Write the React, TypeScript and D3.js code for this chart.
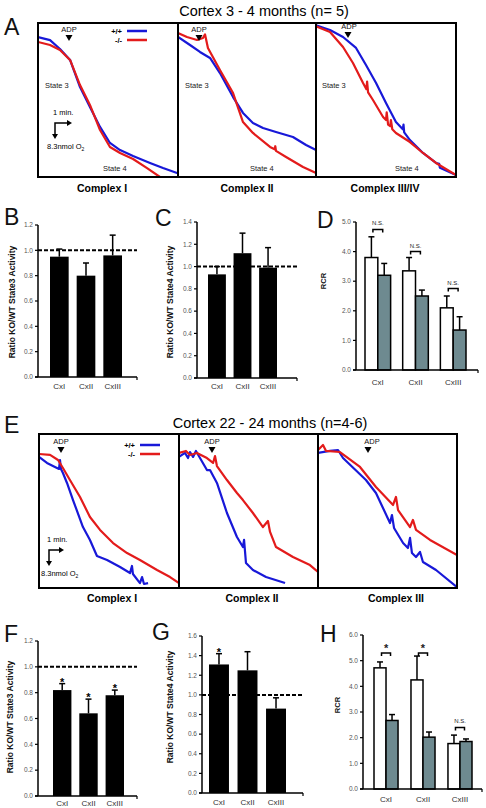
import React from 'react';
import * as d3 from 'd3';

const FONT = "'Liberation Sans', Arial, Helvetica, sans-serif";
const BLUE = '#1818d8';
const RED = '#e31b1b';
const GRAY = '#6e8a90';

type Pt = [number, number];

// ---------- Panel A traces (time %, O2 % of box) ----------
const aC1Blue: Pt[] = [[0, 90.9], [8.6, 88.9], [15.7, 83.1], [22.9, 76.0], [30, 58.4], [37.1, 45.5], [44.3, 32.5], [51.4, 22.1], [58.6, 17.5], [67.9, 13.6], [80, 9.1], [89.3, 5.8], [99.3, 2.6], [100, 2.6]];
const aC1Red: Pt[] = [[0, 87.7], [8.6, 85.7], [15.7, 82.5], [22.9, 76], [30, 59.7], [37.1, 46.8], [44.3, 30.5], [51.4, 19.5], [58.6, 15.6], [67.9, 11.7], [77.9, 5.8], [87.1, 0], [90, -2]];
const aC2Blue: Pt[] = [[0, 90.9], [8.7, 85.7], [15.9, 81.2], [23.2, 77.3], [30.4, 67.5], [39.9, 51.9], [47.1, 41.6], [54.3, 35.1], [61.6, 31.8], [71, 29.2], [83.3, 26], [92.8, 20.8], [100, 17.5]];
const aC2Red: Pt[] = [[0, 93.5], [6.5, 90.9], [13.8, 89], [18.1, 90.3], [19.6, 92.6], [21.7, 83.8], [30.4, 69.5], [39.9, 54.5], [47.1, 35.7], [54.3, 28.6], [66.7, 19.5], [70, 18], [70.5, 20], [71, 17], [78.3, 13], [90.6, 6.5], [100, 2.6]];
const aC3Blue: Pt[] = [[0, 98.5], [10, 95.5], [19.3, 90.9], [28.6, 83.8], [35.7, 72.7], [42.9, 61], [50, 48.1], [57.1, 35.7], [62, 31], [62.5, 34], [63, 29], [67.1, 24], [76.4, 15.6], [85.7, 9.1], [88, 8.5], [88.5, 6], [100, 1.3]];
const aC3Red: Pt[] = [[0, 97.8], [10, 94.2], [19.3, 84.4], [26.4, 74], [33.6, 61], [36, 57], [36.5, 62], [37.2, 55], [40.7, 50], [47.9, 39], [50, 37], [50.5, 42], [51.5, 34], [53, 33], [53.5, 37], [54.5, 31], [57.1, 28.6], [67.1, 22.7], [76.4, 15.6], [85.7, 9.1], [100, 1.3]];

// ---------- Panel E traces ----------
const eC1Blue: Pt[] = [[0, 85.1], [5.7, 81.2], [11.4, 78.6], [14.3, 77.3], [15, 83.1], [15.7, 77.3], [17.1, 74.7], [20, 68.2], [24.3, 57.1], [31.4, 39.6], [36.4, 31.2], [41.4, 20.8], [48.6, 18.2], [57.9, 13.6], [65, 9.7], [66.4, 14.3], [67.1, 9.1], [72.1, 3.2], [73.6, 7.1], [75, 2.6], [77.9, 3.2]];
const eC1Red: Pt[] = [[0, 87], [7.9, 86.4], [13.6, 83.1], [17.1, 77.9], [22.1, 70.1], [29.3, 59.1], [36.4, 46.1], [43.6, 37.7], [52.9, 29.2], [62.9, 22.7], [72.1, 18.2], [84.3, 11.7], [93.6, 7.1], [100, 3.2]];
const eC2Blue: Pt[] = [[0, 85.1], [4.3, 87.7], [6.5, 84.4], [7.9, 88.3], [10.1, 85.1], [12.2, 89], [15.1, 84.4], [20.1, 76.6], [22.3, 76.6], [27.3, 68.2], [34.5, 48.7], [41.7, 33.1], [46, 26.6], [46.8, 31.2], [48.2, 16.2], [53.2, 11.7], [62.6, 7.1], [76.3, 3.2]];
const eC2Red: Pt[] = [[0, 87.7], [5, 89], [7.9, 86.4], [12.9, 87.7], [20.1, 84.4], [24.5, 81.2], [25.9, 85.7], [27.3, 79.2], [34.5, 70.1], [41.7, 61.7], [46, 57.1], [53.2, 48.7], [60.4, 39.6], [64, 43.5], [65.5, 36.4], [69.8, 26.6], [82, 20.1], [94.2, 14.9], [100, 10.4]];
const eC3Blue: Pt[] = [[0, 87.7], [8.6, 89], [14.4, 89.6], [18, 84.4], [34.5, 70.1], [41.7, 61.7], [51.8, 42.2], [53.2, 47.4], [54.7, 39], [61.2, 29.2], [64.7, 26], [66.2, 32.5], [67.6, 22.7], [70.5, 20.1], [73.4, 23.4], [75.5, 16.9], [84.9, 11.7], [100, 0.6]];
const eC3Red: Pt[] = [[0, 89.6], [3.6, 92.9], [5.8, 89], [15.8, 88.3], [30.2, 78.6], [41.7, 65.6], [54, 53.9], [56.1, 59.1], [57.6, 50.6], [66.2, 39.6], [68.3, 44.2], [70.5, 37.7], [80.6, 31.2], [100, 21.4]];

// ---------- Bar data ----------
const cats = ['CxI', 'CxII', 'CxIII'];
const bVals = [0.95, 0.80, 0.96];
const bErr = [1.01, 0.90, 1.12];
const cVals = [0.93, 1.12, 0.99];
const cErr = [1.00, 1.30, 1.17];
const dWT = [3.8, 3.35, 2.1];
const dWTErr = [4.5, 3.8, 2.5];
const dKO = [3.2, 2.5, 1.35];
const dKOErr = [3.6, 2.7, 1.8];
const dBracket = [4.75, 4.0, 2.75];
const dSig = ['N.S.', 'N.S.', 'N.S.'];
const fVals = [0.82, 0.64, 0.78];
const fErr = [0.87, 0.75, 0.82];
const fStars = [true, true, true];
const gVals = [1.31, 1.25, 0.86];
const gErr = [1.42, 1.44, 0.97];
const gStars = [true, false, false];
const hWT = [4.72, 4.25, 1.77];
const hWTErr = [4.95, 5.18, 2.1];
const hKO = [2.67, 2.02, 1.85];
const hKOErr = [2.9, 2.22, 1.95];
const hBracket = [5.3, 5.3, 2.4];
const hSig = ['*', '*', 'N.S.'];

function TraceBox(props: { id: string; left: number; top: number; width: number; height: number; blue: Pt[]; red: Pt[] }) {
  const { id, left, top, width, height, blue, red } = props;
  const x = d3.scaleLinear().domain([0, 100]).range([left, left + width]);
  const y = d3.scaleLinear().domain([0, 100]).range([top + height, top]);
  const line = d3.line<Pt>().x(d => x(d[0])).y(d => y(d[1]));
  return (
    <g>
      <clipPath id={id}><rect x={left} y={top} width={width} height={height} /></clipPath>
      <g clipPath={`url(#${id})`}>
        <path d={line(blue) || ''} stroke={BLUE} strokeWidth={2.2} fill="none" strokeLinejoin="round" />
        <path d={line(red) || ''} stroke={RED} strokeWidth={2.2} fill="none" strokeLinejoin="round" />
      </g>
      <rect x={left} y={top} width={width} height={height} fill="none" stroke="#000" strokeWidth={2} />
    </g>
  );
}

function ADP({ x, y, tri }: { x: number; y: number; tri?: number }) {
  const tx = tri ?? x;
  return (
    <g>
      <text x={x} y={y} fontSize={7.5} textAnchor="middle" fill="#111">ADP</text>
      <path d={`M${tx - 3.5},${y + 3} L${tx + 3.5},${y + 3} L${tx},${y + 9} Z`} fill="#000" />
    </g>
  );
}

function Legend({ x, y }: { x: number; y: number }) {
  return (
    <g fontSize={7.5} fontWeight="bold">
      <text x={x} y={y + 2.5} textAnchor="end">+/+</text>
      <line x1={x + 5} x2={x + 25} y1={y} y2={y} stroke={BLUE} strokeWidth={2.5} />
      <text x={x} y={y + 11.5} textAnchor="end">-/-</text>
      <line x1={x + 5} x2={x + 25} y1={y + 9} y2={y + 9} stroke={RED} strokeWidth={2.5} />
    </g>
  );
}

function ScaleBar({ x, y, right, down }: { x: number; y: number; right: number; down: number }) {
  return (
    <g>
      <text x={x - 2} y={y - 8} fontSize={7.5}>1 min.</text>
      <path d={`M${x},${y + down - 4} L${x},${y} L${x + right - 4},${y}`} stroke="#000" strokeWidth={1.5} fill="none" />
      <path d={`M${x + right - 5},${y - 3} L${x + right},${y} L${x + right - 5},${y + 3} Z`} fill="#000" />
      <path d={`M${x - 3},${y + down - 5} L${x},${y + down} L${x + 3},${y + down - 5} Z`} fill="#000" />
      <text x={x - 8} y={y + down + 10} fontSize={7.5}>8.3nmol O<tspan fontSize={5} dy={2}>2</tspan></text>
    </g>
  );
}

type AxisProps = { axisX: number; axisRight: number; y0: number; y1: number; max: number; step: number; labelY: number; ylabel: string; ylabelX: number; ylabelCY: number; ylabelSize: number };

function Axes(p: AxisProps & { y: d3.ScaleLinear<number, number> }) {
  const ticks = d3.range(0, p.max + 1e-9, p.step);
  const fmt = d3.format('.1f');
  return (
    <g>
      <line x1={p.axisX} x2={p.axisX} y1={p.y0} y2={p.y1} stroke="#000" strokeWidth={1.5} />
      <line x1={p.axisX - 3} x2={p.axisRight} y1={p.y0} y2={p.y0} stroke="#000" strokeWidth={1.5} />
      <line x1={p.axisRight} x2={p.axisRight} y1={p.y0} y2={p.y0 + 3} stroke="#000" strokeWidth={1.2} />
      {ticks.map((t, i) => (
        <g key={i}>
          <line x1={p.axisX - 3} x2={p.axisX} y1={p.y(t)} y2={p.y(t)} stroke="#000" strokeWidth={1.2} />
          <text x={p.axisX - 5} y={p.y(t)} dy="0.35em" fontSize={6.5} textAnchor="end" fill="#555">{fmt(t)}</text>
        </g>
      ))}
      <text transform={`translate(${p.ylabelX},${p.ylabelCY}) rotate(-90)`} textAnchor="middle" fontSize={p.ylabelSize} fontWeight="bold" fill="#111">{p.ylabel}</text>
    </g>
  );
}

function RatioPanel(p: AxisProps & { band: [number, number]; vals: number[]; errs: number[]; stars?: boolean[] }) {
  const y = d3.scaleLinear().domain([0, p.max]).range([p.y0, p.y1]);
  const x = d3.scaleBand<string>().domain(cats).range(p.band).paddingInner(0.3).paddingOuter(0);
  const bw = x.bandwidth();
  return (
    <g>
      {cats.map((c, i) => {
        const cx = (x(c) as number) + bw / 2;
        return (
          <g key={c}>
            <line x1={cx} x2={cx} y1={y(p.vals[i])} y2={y(p.errs[i])} stroke="#000" strokeWidth={1.5} />
            <line x1={cx - 3} x2={cx + 3} y1={y(p.errs[i])} y2={y(p.errs[i])} stroke="#000" strokeWidth={1.5} />
            <rect x={x(c)} y={y(p.vals[i])} width={bw} height={p.y0 - y(p.vals[i])} fill="#000" />
            {p.stars && p.stars[i] ? <text x={cx} y={y(p.errs[i]) + 2} fontSize={11} textAnchor="middle" fontWeight="bold">*</text> : null}
            <text x={cx} y={p.labelY} fontSize={8} textAnchor="middle" fill="#333">{c}</text>
          </g>
        );
      })}
      <line x1={p.axisX} x2={p.axisRight} y1={y(1)} y2={y(1)} stroke="#000" strokeWidth={2} strokeDasharray="4,2" />
      <Axes {...p} y={y} />
    </g>
  );
}

function RcrPanel(p: AxisProps & { band: [number, number]; pad: number; wt: number[]; wtErr: number[]; ko: number[]; koErr: number[]; bracket: number[]; sig: string[] }) {
  const y = d3.scaleLinear().domain([0, p.max]).range([p.y0, p.y1]);
  const x = d3.scaleBand<string>().domain(cats).range(p.band).paddingInner(p.pad).paddingOuter(0);
  const sub = d3.scaleBand<string>().domain(['wt', 'ko']).range([0, x.bandwidth()]);
  const sw = sub.bandwidth();
  return (
    <g>
      {cats.map((c, i) => {
        const gx = x(c) as number;
        const wx = gx + (sub('wt') as number);
        const kx = gx + (sub('ko') as number);
        const wc = wx + sw / 2;
        const kc = kx + sw / 2;
        const by = y(p.bracket[i]);
        const star = p.sig[i] === '*';
        return (
          <g key={c}>
            <line x1={wc} x2={wc} y1={y(p.wt[i])} y2={y(p.wtErr[i])} stroke="#000" strokeWidth={1.5} />
            <line x1={wc - 3} x2={wc + 3} y1={y(p.wtErr[i])} y2={y(p.wtErr[i])} stroke="#000" strokeWidth={1.5} />
            <line x1={kc} x2={kc} y1={y(p.ko[i])} y2={y(p.koErr[i])} stroke="#000" strokeWidth={1.5} />
            <line x1={kc - 3} x2={kc + 3} y1={y(p.koErr[i])} y2={y(p.koErr[i])} stroke="#000" strokeWidth={1.5} />
            <rect x={wx} y={y(p.wt[i])} width={sw} height={p.y0 - y(p.wt[i])} fill="#fff" stroke="#000" strokeWidth={1.5} />
            <rect x={kx} y={y(p.ko[i])} width={sw} height={p.y0 - y(p.ko[i])} fill={GRAY} stroke="#000" strokeWidth={1.5} />
            <path d={`M${wc + 1.5},${by + 3} L${wc + 1.5},${by} L${kc - 1.5},${by} L${kc - 1.5},${by + 3}`} stroke="#000" strokeWidth={1.5} fill="none" />
            <text x={(wc + kc) / 2} y={star ? by - 1 : by - 4} fontSize={star ? 11 : 6} textAnchor="middle" fill="#222" fontWeight={star ? 'bold' : 'normal'}>{p.sig[i]}</text>
            <text x={(wc + kc) / 2} y={p.labelY} fontSize={8} textAnchor="middle" fill="#333">{c}</text>
          </g>
        );
      })}
      <Axes {...p} y={y} />
    </g>
  );
}

export default function App() {
  const letter = (t: string, x: number, y: number) => <text x={x} y={y} fontSize={23} fill="#111">{t}</text>;
  const small = (t: string, x: number, y: number) => <text x={x} y={y} fontSize={7.5} fill="#222">{t}</text>;
  const cx = (t: string, x: number, y: number) => <text x={x} y={y} fontSize={10.5} fontWeight="bold" textAnchor="middle">{t}</text>;
  return (
    <svg width={486} height={808} style={{ position: 'absolute', left: 0, top: 0, background: '#fff' }} fontFamily={FONT}>
      <rect width={486} height={808} fill="#fff" />
      {/* ---------- A ---------- */}
      <text x={264} y={15.5} fontSize={14.5} textAnchor="middle">Cortex 3 - 4 months (n= 5)</text>
      {letter('A', 4, 35)}
      <TraceBox id="a1" left={38} top={23} width={140} height={154} blue={aC1Blue} red={aC1Red} />
      <TraceBox id="a2" left={178} top={23} width={138} height={154} blue={aC2Blue} red={aC2Red} />
      <TraceBox id="a3" left={316} top={23} width={140} height={154} blue={aC3Blue} red={aC3Red} />
      <ADP x={69} y={32} />
      <ADP x={199} y={32} />
      <ADP x={349} y={29} tri={348} />
      <Legend x={122} y={31} />
      {small('State 3', 45, 88)}
      {small('State 3', 185, 88)}
      {small('State 3', 322, 88)}
      {small('State 4', 103, 171)}
      {small('State 4', 250, 171)}
      {small('State 4', 395, 171)}
      <ScaleBar x={55} y={123} right={17} down={16} />
      {cx('Complex I', 102, 192)}
      {cx('Complex II', 247, 192)}
      {cx('Complex III/IV', 385, 192)}

      {/* ---------- B C D ---------- */}
      {letter('B', 4, 225)}
      <RatioPanel axisX={38} axisRight={137} y0={377} y1={225} max={1.2} step={0.2} labelY={389} band={[50, 122]}
        vals={bVals} errs={bErr} ylabel="Ratio KO/WT State3 Activity" ylabelX={15} ylabelCY={302} ylabelSize={8.5} />
      {letter('C', 155, 226)}
      <RatioPanel axisX={197} axisRight={297} y0={378} y1={222} max={1.4} step={0.2} labelY={389} band={[208, 277]}
        vals={cVals} errs={cErr} ylabel="Ratio KO/WT State4 Activity" ylabelX={173} ylabelCY={302} ylabelSize={8.5} />
      {letter('D', 317, 228)}
      <RcrPanel axisX={356} axisRight={478} y0={370} y1={222} max={5} step={1} labelY={385} band={[365, 466]} pad={0.32}
        wt={dWT} wtErr={dWTErr} ko={dKO} koErr={dKOErr} bracket={dBracket} sig={dSig}
        ylabel="RCR" ylabelX={326} ylabelCY={281} ylabelSize={7.5} />

      {/* ---------- E ---------- */}
      <text x={270} y={428} fontSize={14.5} textAnchor="middle">Cortex 22 - 24 months (n=4-6)</text>
      {letter('E', 4, 433)}
      <TraceBox id="e1" left={39} top={434} width={140} height={154} blue={eC1Blue} red={eC1Red} />
      <TraceBox id="e2" left={179} top={434} width={139} height={154} blue={eC2Blue} red={eC2Red} />
      <TraceBox id="e3" left={318} top={434} width={139} height={154} blue={eC3Blue} red={eC3Red} />
      <ADP x={61} y={444} />
      <ADP x={212} y={444} />
      <ADP x={372} y={444} tri={368} />
      <Legend x={135} y={445} />
      <ScaleBar x={49} y={550} right={15} down={16} />
      {cx('Complex I', 112, 602)}
      {cx('Complex II', 252, 602)}
      {cx('Complex III', 396, 602)}

      {/* ---------- F G H ---------- */}
      {letter('F', 4, 642)}
      <RatioPanel axisX={38} axisRight={137} y0={796} y1={641} max={1.2} step={0.2} labelY={806} band={[53, 124]}
        vals={fVals} errs={fErr} stars={fStars} ylabel="Ratio KO/WT State3 Activity" ylabelX={13} ylabelCY={717} ylabelSize={8.5} />
      {letter('G', 152, 640)}
      <RatioPanel axisX={202} axisRight={303} y0={793} y1={636} max={1.6} step={0.2} labelY={805} band={[209, 286]}
        vals={gVals} errs={gErr} stars={gStars} ylabel="Ratio KO/WT State4 Activity" ylabelX={173} ylabelCY={707} ylabelSize={8.5} />
      {letter('H', 320, 642)}
      <RcrPanel axisX={363} axisRight={482} y0={789} y1={635} max={6} step={1} labelY={802} band={[374, 472]} pad={0.35}
        wt={hWT} wtErr={hWTErr} ko={hKO} koErr={hKOErr} bracket={hBracket} sig={hSig}
        ylabel="RCR" ylabelX={340} ylabelCY={705} ylabelSize={7.5} />
    </svg>
  );
}
